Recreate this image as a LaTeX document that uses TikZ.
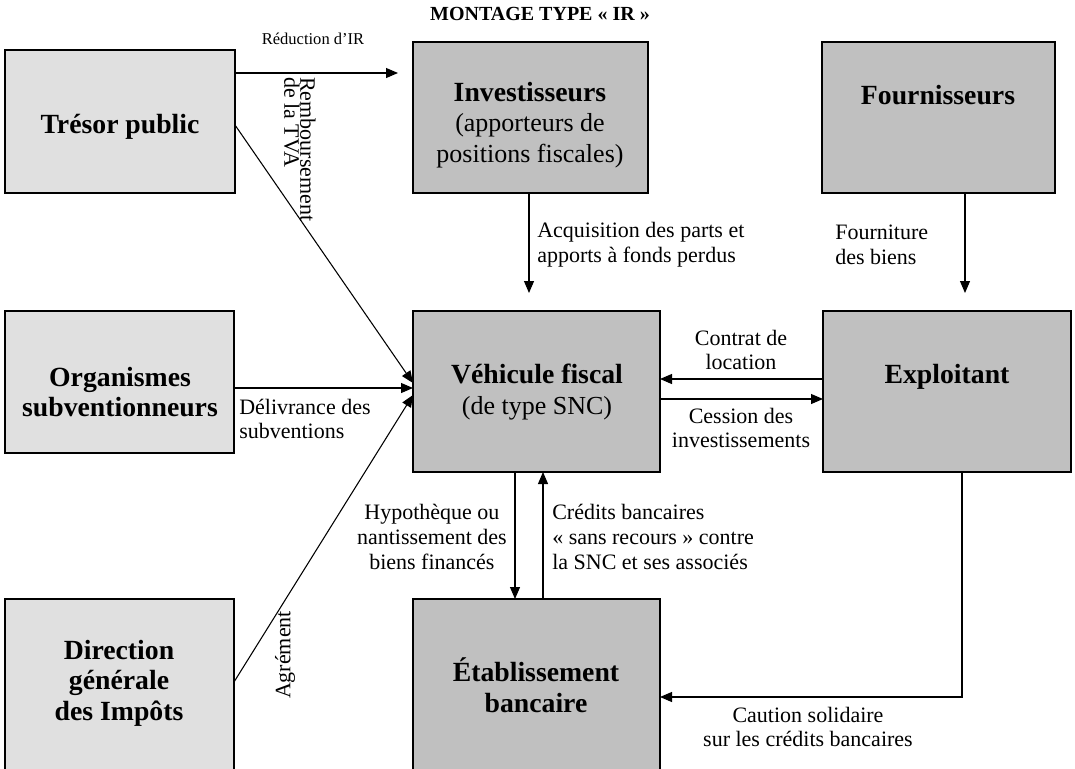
\documentclass[tikz,border=0pt]{standalone}
\usepackage{fontspec}
\setmainfont{Liberation Serif}
\usetikzlibrary{fit,arrows.meta}
\definecolor{lightbox}{HTML}{E0E0E0}
\definecolor{darkbox}{HTML}{C0C0C0}
\newcommand{\bb}[1]{{\fontsize{20.8}{23}\selectfont\bfseries #1}}
\begin{document}
\begin{tikzpicture}[x=0.75pt,y=-0.75pt,
  box/.style={draw=black, line width=0.8pt, inner sep=0pt, outer sep=0pt},
  lb/.style={box, fill=lightbox},
  db/.style={box, fill=darkbox},
  bt/.style={font=\fontsize{19.5}{23}\selectfont, align=center, inner sep=0pt},
  lbl/.style={font=\fontsize{16.5}{18.5}\selectfont, inner sep=0pt},
  arr/.style={line width=0.8pt, -{Triangle[length=9pt,width=7.5pt]}},
  ln/.style={line width=0.8pt}]
\useasboundingbox (0,0) rectangle (1075,768);
\clip (0,0) rectangle (1075,768);
% boxes
\node[lb, fit={(5,50) (235,193)}] (T) {};
\node[db, fit={(413,42) (648,193)}] (I) {};
\node[db, fit={(822,42) (1055,193)}] (F) {};
\node[lb, fit={(5,311) (234,453)}] (O) {};
\node[db, fit={(413,311) (660,472)}] (V) {};
\node[db, fit={(823,311) (1071,472)}] (E) {};
\node[lb, fit={(5,599) (234,800)}] (D) {};
\node[db, fit={(413,599) (660,800)}] (B) {};
% box texts
\node[bt] (Tt) at (120,127) {\bb{Trésor public}};
\node[bt] (It) at (530,125) {\bb{Investisseurs}\\(apporteurs de\\positions fiscales)};
\node[bt] (Ft) at (938,95) {\bb{Fournisseurs}};
\node[bt] (Ot) at (120,392) {\bb{Organismes}\\\bb{subventionneurs}};
\node[bt] (Vt) at (537,392) {\bb{Véhicule fiscal}\\(de type SNC)};
\node[bt] (Et) at (947,377) {\bb{Exploitant}};
\node[bt] (Dt) at (119,683) {\bb{Direction}\\\bb{générale}\\\bb{des Impôts}};
\node[bt] (Bt) at (536,685) {\bb{Établissement}\\\bb{bancaire}};
% title and labels
\node[font=\bfseries\fontsize{15}{18}\selectfont, inner sep=0pt] (title) at (540,14) {MONTAGE TYPE «~IR~»};
\node[font=\fontsize{12.4}{14}\selectfont, inner sep=0pt] (red) at (313,39) {Réduction d’IR};
\node[lbl, rotate=-90, anchor=north west, align=left,
      font={\fontsize{16.5}{12}\selectfont\lineskiplimit=-20pt}] (tva) at (316,77) {Remboursement\\de la TVA};
\node[lbl, rotate=90] (agr) at (285,655) {Agrément};
\node[lbl, align=left, anchor=west] (acq) at (537,245) {Acquisition des parts et\\apports à fonds perdus};
\node[lbl, align=left, anchor=west] (fou) at (835,245) {Fourniture\\des biens};
\node[lbl, align=center] (con) at (741,350) {Contrat de\\location};
\node[lbl, align=center] (ces) at (741,428) {Cession des\\investissements};
\node[lbl, align=left, anchor=west] (del) at (239,419) {Délivrance des\\subventions};
\node[lbl, align=center, anchor=east] (hyp) at (507,537) {Hypothèque ou\\nantissement des\\biens financés};
\node[lbl, align=left, anchor=west] (cre) at (552,537) {Crédits bancaires\\«~sans recours~» contre\\la SNC et ses associés};
\node[lbl, align=center] (cau) at (808,727) {Caution solidaire\\sur les crédits bancaires};
% helper coordinates
\coordinate (y73) at (0,73);
\coordinate (y125) at (0,125);
\coordinate (y383) at (0,383);
\coordinate (y388) at (0,388);
\coordinate (y395) at (0,395);
\coordinate (y682) at (0,682);
\coordinate (y379) at (0,379);
\coordinate (y399) at (0,399);
\coordinate (y697) at (0,697);
\coordinate (x529) at (529,0);
\coordinate (x965) at (965,0);
\coordinate (x515) at (515,0);
\coordinate (x543) at (543,0);
\coordinate (x962) at (962,0);
% connectors
\draw[arr, shorten >=11.25pt] (T.east |- y73) -- (I.west |- y73);
\draw[arr, shorten >=13.5pt] (I.south -| x529) -- (V.north -| x529);
\draw[arr, shorten >=13.5pt] (F.south -| x965) -- (E.north -| x965);
\draw[arr] (T.east |- y125) -- (V.west |- y383);
\draw[arr] (O.east |- y388) -- (V.west |- y388);
\draw[arr] (D.east |- y682) -- (V.west |- y395);
\draw[arr] (E.west |- y379) -- (V.east |- y379);
\draw[arr] (V.east |- y399) -- (E.west |- y399);
\draw[arr] (V.south -| x515) -- (B.north -| x515);
\draw[arr] (B.north -| x543) -- (V.south -| x543);
\draw[arr] (E.south -| x962) |- (B.east |- y697);
\end{tikzpicture}
\end{document}
